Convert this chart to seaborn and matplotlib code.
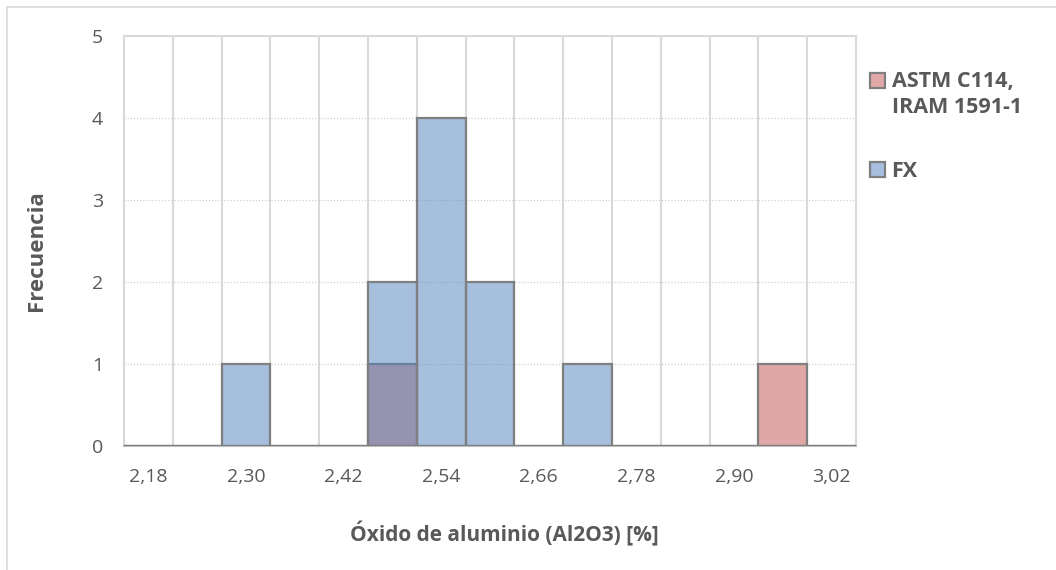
import numpy as np
import pandas as pd
import seaborn as sns
import matplotlib.pyplot as plt
from matplotlib.patches import Patch
from matplotlib.lines import Line2D
from matplotlib.ticker import FixedLocator, FixedFormatter

# muestras (Al2O3 %)
FX_VALUES = [2.27, 2.45, 2.45, 2.51, 2.51, 2.51, 2.51, 2.57, 2.57, 2.69]
ASTM_VALUES = [2.45, 2.93]
# etiquetas = limite superior del intervalo, mostradas una de cada dos
X_TICKS = [2.18, 2.30, 2.42, 2.54, 2.66, 2.78, 2.90, 3.02]
X_GRID = [2.18, 2.24, 2.30, 2.36, 2.42, 2.48, 2.54, 2.60, 2.66, 2.72, 2.78, 2.84, 2.90, 2.96]
Y_TICKS = [0, 1, 2, 3, 4, 5]
BIN_W = 0.06

sns.set_style("white")
plt.rcParams["font.family"] = ["Open Sans", "DejaVu Sans"]

fig = plt.figure(figsize=(10.56, 5.7), dpi=100)
ax = fig.add_axes([0.1174, 0.2175, 0.6932, 0.7193])

fx_df = pd.DataFrame({"valor": FX_VALUES})
astm_df = pd.DataFrame({"valor": ASTM_VALUES})

sns.histplot(data=astm_df, x="valor", binwidth=BIN_W, binrange=(2.12, 3.02),
             color="#C0504D", alpha=0.5, edgecolor="#7F7F7F", linewidth=1.6, ax=ax, zorder=3)
sns.histplot(data=fx_df, x="valor", binwidth=BIN_W, binrange=(2.12, 3.02),
             color="#4F81BD", alpha=0.5, edgecolor="#7F7F7F", linewidth=1.6, ax=ax, zorder=4)

ax.set_xlim(2.12, 3.02)
ax.set_ylim(0, 5)
# etiqueta centrada en su intervalo (como en Excel)
ax.xaxis.set_major_locator(FixedLocator([t - BIN_W / 2 for t in X_TICKS]))
ax.xaxis.set_major_formatter(FixedFormatter([f"{t:.2f}".replace(".", ",") for t in X_TICKS]))
ax.xaxis.set_minor_locator(FixedLocator(X_GRID))
ax.yaxis.set_major_locator(FixedLocator(Y_TICKS))

ax.grid(axis="x", which="major", visible=False)
ax.grid(axis="x", which="minor", color="#D9D9D9", linewidth=1.5, zorder=0)
ax.grid(axis="y", which="major", color="#D0D0D0", linewidth=0.9, linestyle=(0, (1, 1.5)), zorder=0)
ax.set_axisbelow(True)
ax.tick_params(axis="x", which="both", length=0, labelsize=14, labelcolor="#595959", pad=16)
ax.tick_params(axis="y", which="both", length=0, labelsize=14, labelcolor="#595959", pad=15)

for side in ["top", "right", "left"]:
    ax.spines[side].set_color("#D9D9D9")
    ax.spines[side].set_linewidth(1.5)
ax.spines["bottom"].set_color("#BFBFBF")
ax.spines["bottom"].set_linewidth(1.5)

ax.set_xlabel("Óxido de aluminio (Al2O3) [%]", fontsize=15, fontweight="bold", color="#595959", labelpad=25)
ax.set_ylabel("Frecuencia", fontsize=16, fontweight="bold", color="#595959", labelpad=32)
ax.xaxis.label.set_x(0.52)
ax.yaxis.label.set_y(0.476)

handles = [
    Patch(facecolor="#E0A8A6", edgecolor="#7F7F7F", linewidth=1.6, label="ASTM C114,\nIRAM 1591-1"),
    Patch(facecolor="#A7BFDE", edgecolor="#7F7F7F", linewidth=1.6, label="FX"),
]
leg = fig.legend(handles=handles, loc="upper left", bbox_to_anchor=(0.8055, 0.91), frameon=False,
                 handlelength=0.7, handleheight=0.7, handletextpad=0.3, labelspacing=2.0,
                 prop={"size": 15.5, "weight": "bold"}, labelcolor="#595959")
for t in leg.get_texts():
    t.set_linespacing(1.36)
# alinear el cuadro de ASTM con la primera linea del texto
h0 = leg.legend_handles[0]
h0.set_y(h0.get_y() + 10.5)

# borde exterior del grafico (solo izquierda y arriba visibles)
fig.add_artist(Line2D([0.0066, 0.0066], [0.0, 0.988], transform=fig.transFigure, color="#D9D9D9", linewidth=1.2))
fig.add_artist(Line2D([0.0066, 1.0], [0.988, 0.988], transform=fig.transFigure, color="#D9D9D9", linewidth=1.2))

fig.savefig("out.png", dpi=100)
